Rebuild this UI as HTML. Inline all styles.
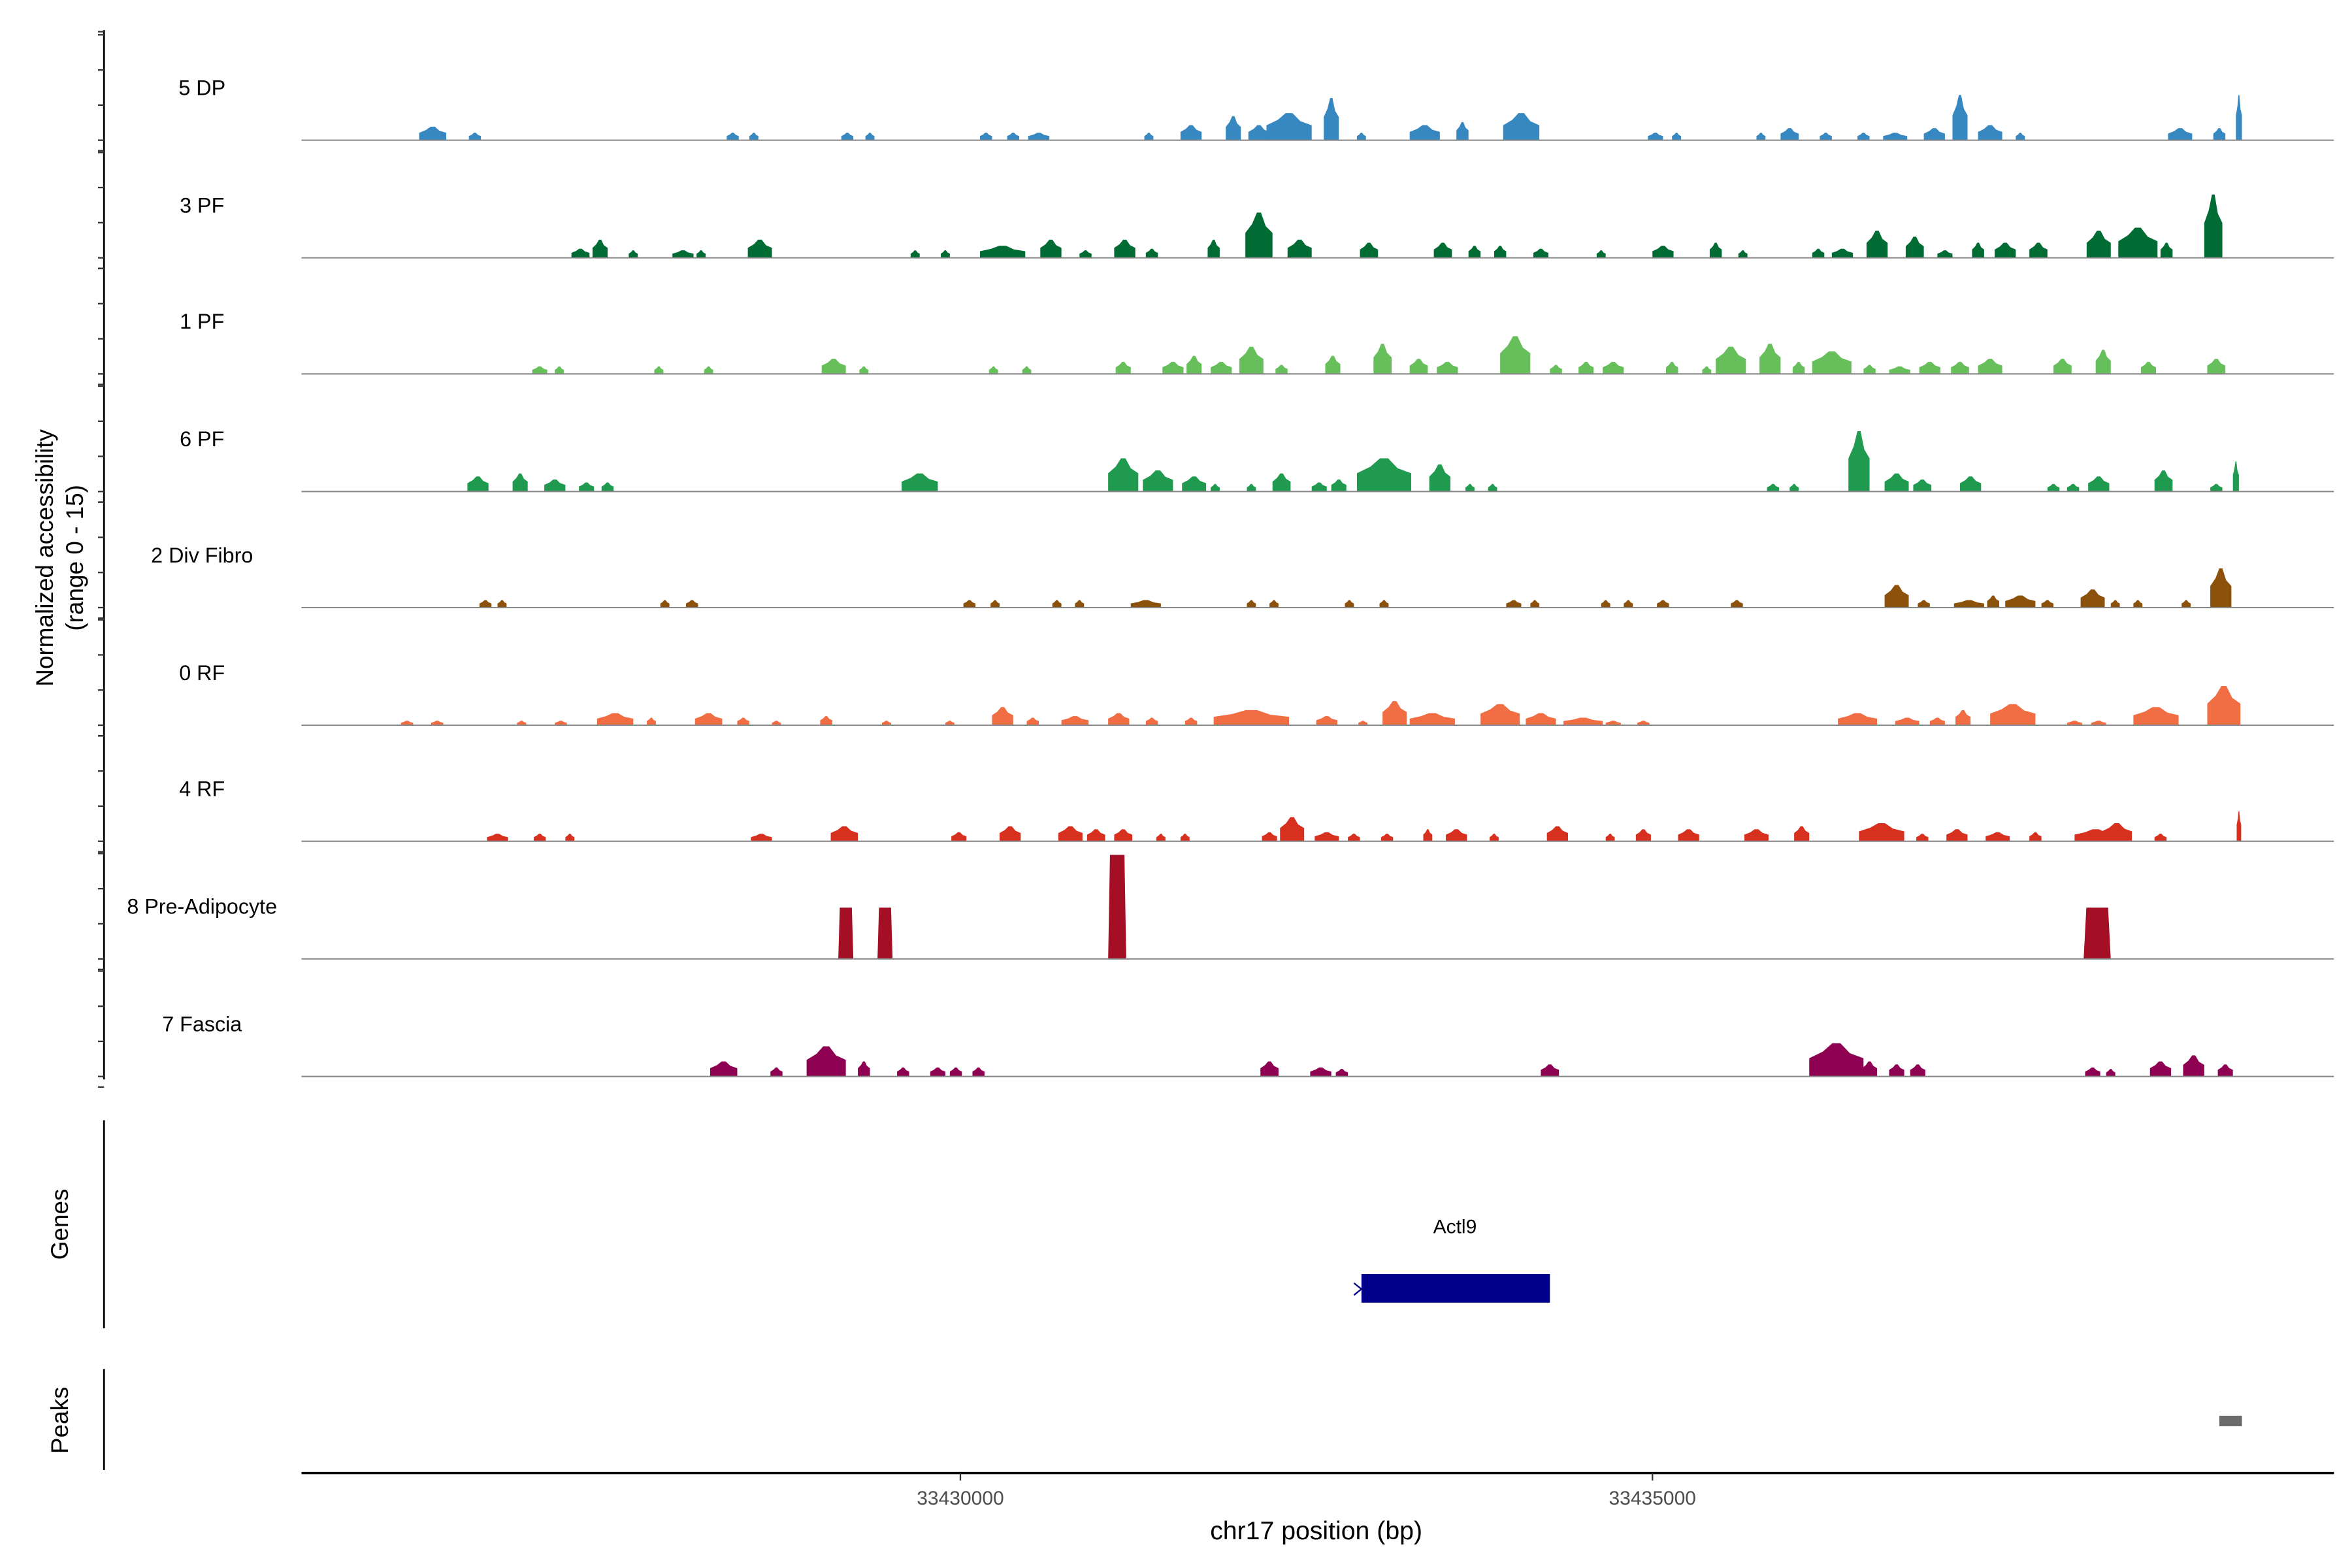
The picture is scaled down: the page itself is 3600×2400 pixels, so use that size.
<!DOCTYPE html>
<html><head><meta charset="utf-8"><style>
html,body{margin:0;padding:0;background:#fff}
svg{display:block}
text{font-family:"Liberation Sans",Arial,sans-serif}
</style></head><body>
<svg id="s" width="3600" height="2400" viewBox="0 0 1560 1040" xmlns="http://www.w3.org/2000/svg">
<rect width="1560" height="1040" fill="#fff"/>
<g id="tracks"></g>
<line x1="69" y1="20" x2="69" y2="716" stroke="#000" stroke-width="1.2"/>
<g id="ticks" stroke="#333" stroke-width="1"></g>
<line x1="69" y1="743" x2="69" y2="881" stroke="#000" stroke-width="1.2"/>
<line x1="69" y1="908" x2="69" y2="975" stroke="#000" stroke-width="1.2"/>
<text transform="translate(35,370) rotate(-90)" text-anchor="middle" font-size="16">Normalized accessibility</text>
<text transform="translate(55,370) rotate(-90)" text-anchor="middle" font-size="16">(range 0 - 15)</text>
<text transform="translate(45,812) rotate(-90)" text-anchor="middle" font-size="16">Genes</text>
<text transform="translate(45,942) rotate(-90)" text-anchor="middle" font-size="16">Peaks</text>
<text x="965" y="818" text-anchor="middle" font-size="13">Actl9</text>
<rect x="903" y="845" width="125" height="19" fill="#00008B"/>
<line x1="898" y1="851" x2="903" y2="855" stroke="#00008B" stroke-width="1"/>
<line x1="898" y1="859" x2="903" y2="855" stroke="#00008B" stroke-width="1"/>
<rect x="1472" y="939" width="15" height="7" fill="#6b6b6b"/>
<line x1="200" y1="977" x2="1548" y2="977" stroke="#000" stroke-width="1.5"/>
<line x1="637" y1="977" x2="637" y2="982" stroke="#333"/>
<line x1="1096" y1="977" x2="1096" y2="982" stroke="#333"/>
<text x="637" y="998" text-anchor="middle" font-size="13" fill="#4d4d4d">33430000</text>
<text x="1096" y="998" text-anchor="middle" font-size="13" fill="#4d4d4d">33435000</text>
<text x="873" y="1021" text-anchor="middle" font-size="17">chr17 position (bp)</text>
</svg>
<script>
var NS="http://www.w3.org/2000/svg";
var T=[
["5 DP",93,"#3787C0",[[287,9,18],[315,5,8],[486,5,8],[500,5,6],[562,5,8],[577,5,6],[654,5,8],[672,5,8],[689,5,14],[762,5,6],[790,10,14],[818,16,10],[835,10,14],[855,18,30],[883,28,10],[903,5,6],[945,10,20],[970,12,8],[1009,18,24],[1098,5,10],[1112,5,6],[1168,5,6],[1187,8,12],[1211,5,8],[1236,5,8],[1257,5,16],[1283,8,14],[1300,30,10],[1320,10,16],[1340,5,6],[1446,8,16],[1472,8,8],[1485,30,4]]],
["3 PF",171,"#006B33",[[385,6,12],[398,12,10],[420,5,6],[453,5,14],[465,5,6],[504,12,16],[607,5,6],[627,5,6],[665,8,30],[697,12,14],[720,5,8],[746,12,14],[764,6,8],[805,12,8],[835,30,18],[862,12,16],[908,10,12],[957,10,12],[978,8,8],[995,8,8],[1022,6,10],[1062,5,6],[1103,8,14],[1138,10,8],[1156,5,6],[1206,6,8],[1222,6,14],[1245,18,14],[1270,14,12],[1290,5,10],[1312,10,8],[1330,10,14],[1352,10,12],[1392,18,16],[1418,20,26],[1437,10,8],[1468,42,12]]],
["1 PF",248,"#67BF5C",[[358,5,10],[371,5,6],[437,5,6],[470,5,6],[553,10,16],[573,5,6],[659,5,6],[681,5,6],[745,8,10],[778,8,14],[792,12,10],[810,8,14],[830,18,16],[850,6,8],[884,12,10],[917,20,12],[941,10,12],[960,8,14],[1005,25,20],[1032,6,8],[1052,8,10],[1070,8,14],[1109,8,8],[1132,5,6],[1148,18,20],[1174,20,14],[1193,8,8],[1215,15,26],[1240,6,8],[1260,5,14],[1280,8,14],[1300,8,12],[1320,10,16],[1368,10,12],[1395,16,10],[1425,8,10],[1470,10,12]]],
["6 PF",326,"#1F9A4E",[[317,10,14],[345,12,10],[368,8,14],[389,6,10],[403,6,8],[610,12,24],[745,22,20],[768,14,20],[792,10,16],[806,5,6],[830,5,6],[850,12,12],[875,6,10],[888,8,10],[918,22,36],[955,18,14],[975,5,6],[990,5,6],[1176,5,8],[1190,5,6],[1233,40,14],[1258,12,16],[1275,8,12],[1307,10,14],[1362,5,8],[1375,5,8],[1392,10,14],[1435,14,12],[1470,5,8],[1483,20,4]]],
["2 Div Fibro",403,"#8C510A",[[322,5,8],[333,5,6],[441,5,6],[459,5,8],[643,5,8],[660,5,6],[701,5,6],[716,5,6],[760,5,20],[830,5,6],[845,5,6],[895,5,6],[918,5,6],[1004,5,10],[1018,5,6],[1065,5,6],[1080,5,6],[1103,5,8],[1152,5,8],[1258,15,16],[1276,5,8],[1306,5,20],[1322,8,8],[1340,8,20],[1358,5,8],[1388,12,16],[1403,5,6],[1418,5,6],[1450,5,6],[1473,26,14]]],
["0 RF",481,"#F16D43",[[270,3,8],[290,3,8],[346,3,6],[372,3,8],[408,8,24],[432,5,6],[470,8,18],[493,5,8],[515,3,6],[548,6,8],[588,3,6],[630,3,6],[665,12,14],[685,5,8],[713,6,18],[742,8,14],[764,5,8],[790,5,8],[830,10,50],[880,6,14],[904,3,6],[925,16,16],[950,8,30],[995,14,26],[1022,8,20],[1050,5,26],[1070,3,10],[1090,3,8],[1232,8,26],[1265,5,16],[1285,5,10],[1302,10,10],[1335,14,30],[1376,3,10],[1392,3,10],[1430,12,30],[1475,26,22]]],
["4 RF",558,"#D7301F",[[330,5,14],[358,5,8],[378,5,6],[505,5,14],[560,10,18],[636,6,10],[670,10,14],[710,10,16],[727,8,12],[745,8,12],[770,5,6],[786,5,6],[842,6,10],[857,16,16],[880,6,16],[898,5,8],[920,5,8],[947,8,6],[966,8,14],[991,5,6],[1033,10,14],[1068,5,6],[1090,8,10],[1120,8,14],[1165,8,16],[1195,10,10],[1248,12,30],[1275,5,8],[1298,8,14],[1325,6,16],[1350,6,8],[1390,8,28],[1404,12,20],[1433,5,8],[1485,20,3]]],
["8 Pre-Adipocyte",636,"#A50F26",[[561,34,10],[587,34,10],[741,69,12],[1391,34,18]]],
["7 Fascia",714,"#8E0152",[[480,10,18],[515,6,8],[548,20,26],[573,10,8],[599,6,8],[622,6,10],[634,6,8],[649,6,8],[842,10,12],[876,6,14],[890,5,8],[1028,8,12],[1218,22,36],[1240,10,10],[1258,8,10],[1272,8,10],[1388,6,10],[1400,5,6],[1433,10,14],[1455,14,14],[1476,8,10]]]
];
var g=document.getElementById("tracks"),tk=document.getElementById("ticks");
function el(n,a,p){var e=document.createElementNS(NS,n);for(var k in a)e.setAttribute(k,a[k]);(p||g).appendChild(e);return e;}
T.forEach(function(t){
 var b=t[1];
 t[3].forEach(function(p){
  var x=p[0],h=p[1],w=p[2]/2,pts;
  if(t[0]=="8 Pre-Adipocyte"){pts=[[x-w,b],[x-w*0.8,b-h],[x+w*0.8,b-h],[x+w,b]];}
  else pts=[[x-w,b],[x-w,b-h*0.55],[x-w*0.5,b-h*0.75],[x-w*0.15,b-h],[x+w*0.15,b-h],[x+w*0.5,b-h*0.7],[x+w,b-h*0.55],[x+w,b]];
  el("polygon",{points:pts.map(function(q){return q.join(",")}).join(" "),fill:t[2]});
 });
 el("line",{x1:200,y1:b,x2:1548,y2:b,stroke:"#888","stroke-width":0.9});
 var lb=el("text",{x:134,y:b-30,"text-anchor":"middle","font-size":"14"});lb.textContent=t[0];
 for(var i=0;i<4;i++){var y=b-i*23.3;el("line",{x1:65,y1:y,x2:69,y2:y},tk);}
 el("line",{x1:65,y1:b+7,x2:69,y2:b+7},tk);
});
el("line",{x1:65,y1:21,x2:69,y2:21},tk);
</script>
</body></html>
